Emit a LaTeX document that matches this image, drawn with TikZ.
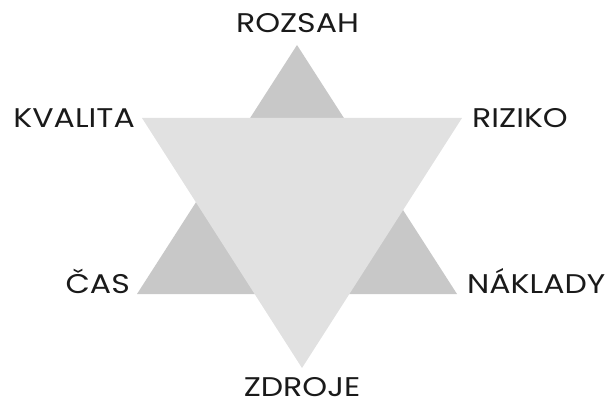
\documentclass[tikz,border=0pt]{standalone}
\usepackage{fontspec}
\setmainfont{Poppins}[FakeStretch=1.17]
\definecolor{upgray}{HTML}{C8C8C8}
\definecolor{downgray}{HTML}{E1E1E1}
\definecolor{txt}{HTML}{1A1A1A}
\begin{document}
\begin{tikzpicture}[x=1pt,y=1pt,
  lbl/.style={text=txt,font=\fontsize{27}{27}\selectfont,inner sep=0pt,text depth=0pt,anchor=base}]
\useasboundingbox (0,0) rectangle (613,402);
% corners (y = 402 - pixel row)
\coordinate (uA) at (297,357);
\coordinate (uL) at (137,108);
\coordinate (uR) at (457,108);
\coordinate (dL) at (142,284);
\coordinate (dR) at (462,284);
\coordinate (dB) at (302,34);
\fill[upgray] (uL) -- (uR) -- (uA) -- cycle;
\fill[downgray] (dL) -- (dR) -- (dB) -- cycle;
\node[lbl] (rozsah) at (297.5,369) {ROZSAH};
\node[lbl,anchor=base east] (kvalita) at (135,274) {KVALITA};
\node[lbl,anchor=base west] (riziko) at (472,274) {RIZIKO};
\node[lbl,anchor=base east] (cas) at (130,109) {ČAS};
\node[lbl,anchor=base west] (naklady) at (467,109) {NÁKLADY};
\node[lbl] (zdroje) at (302,6) {ZDROJE};
\end{tikzpicture}
\end{document}
